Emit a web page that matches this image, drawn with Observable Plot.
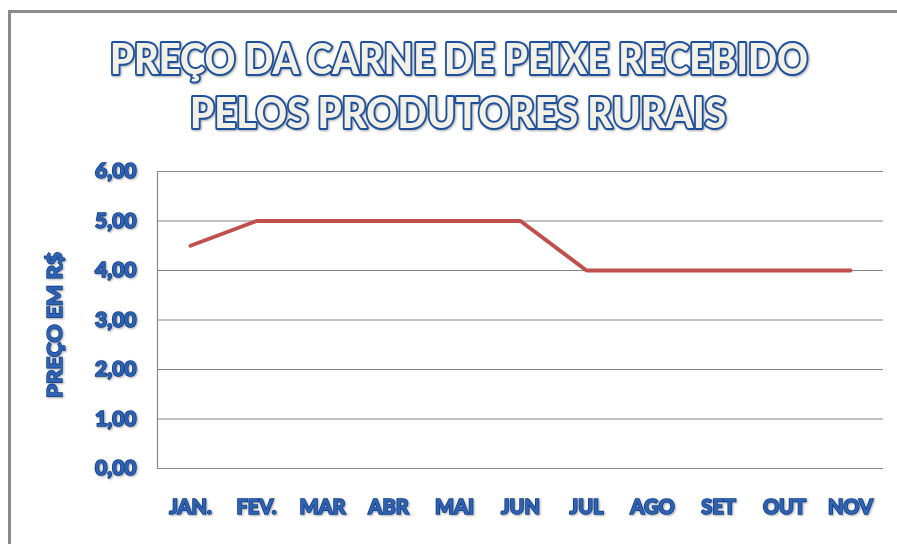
<!DOCTYPE html>
<html>
<head>
<meta charset="utf-8">
<script src="https://cdn.jsdelivr.net/npm/d3@7"></script>
<script src="https://cdn.jsdelivr.net/npm/@observablehq/plot@0.6"></script>
<style>
  html, body { margin: 0; padding: 0; background: #fff; }
  #wrap { position: relative; width: 897px; height: 544px; overflow: hidden; }
  #border { position: absolute; left: 8px; top: 10px; right: -10px; bottom: -10px;
            border-left: 3px solid #8a8a8a; border-top: 3px solid #8a8a8a; pointer-events: none; }
  g[aria-label="y-axis tick label"] text, g[aria-label="x-axis tick label"] text {
    font-family: Lato, "Open Sans", sans-serif; font-weight: 900;
    fill: #2f62b0; stroke: #0d3f8f; stroke-width: 1.6px; paint-order: stroke;
  }
  .deco { filter: drop-shadow(1.5px 1.5px 1px rgba(0,0,0,0.35)); }
</style>
</head>
<body>
<div id="wrap"><div id="border"></div></div>
<script>
const months = ["JAN.", "FEV.", "MAR", "ABR", "MAI", "JUN", "JUL", "AGO", "SET", "OUT", "NOV"];
const prices = [4.5, 5, 5, 5, 5, 5, 4, 4, 4, 4, 4];
const yTicks = [0, 1, 2, 3, 4, 5, 6];
const titleLines = ["PREÇO DA CARNE DE PEIXE RECEBIDO", "PELOS PRODUTORES RURAIS"];
const yLabel = "PREÇO EM R$";

const data = months.map((m, i) => ({month: m, price: prices[i]}));

const chart = Plot.plot({
  width: 897,
  height: 544,
  marginLeft: 157,
  marginRight: 14,
  marginTop: 171,
  marginBottom: 76,
  style: {background: "transparent", overflow: "visible"},
  x: {type: "band", domain: months, paddingInner: 0, paddingOuter: 0},
  y: {domain: [0, 6]},
  marks: [
    Plot.ruleY(yTicks, {stroke: "#868686", strokeWidth: 1.2, strokeOpacity: 1}),
    Plot.frame({anchor: "left", stroke: "#868686", strokeWidth: 1.2}),
    Plot.lineY(data, {x: "month", y: "price", stroke: "#c0504d", strokeWidth: 4, strokeLinejoin: "round"}),
    Plot.axisY(yTicks, {tickSize: 0, tickPadding: 21, fontSize: 21,
      tickFormat: d => d3.format(".2f")(d).replace(".", ","), label: null, className: "deco"}),
    Plot.axisX({tickSize: 0, tickPadding: 31, fontSize: 20, label: null})
  ]
});

document.getElementById("wrap").appendChild(chart);
const svg = d3.select(chart);

// title
const tg = svg.append("g").attr("class", "deco");
const tspec = [
  {text: titleLines[0], x: 459, y: 74, len: 698},
  {text: titleLines[1], x: 458, y: 128, len: 536}
];
tspec.forEach(t => {
  tg.append("text")
    .attr("x", t.x).attr("y", t.y)
    .attr("text-anchor", "middle")
    .attr("textLength", t.len).attr("lengthAdjust", "spacingAndGlyphs")
    .style("font-family", "Lato, 'Open Sans', sans-serif")
    .style("font-weight", 900)
    .style("font-size", "42px")
    .style("fill", "#f3f1e6")
    .style("stroke", "#1c4f9c")
    .style("stroke-width", "4px")
    .style("paint-order", "stroke")
    .style("stroke-linejoin", "round")
    .text(t.text);
});

// y label
svg.append("g").attr("class", "deco")
  .append("text")
  .attr("transform", "translate(62,325) rotate(-90)")
  .attr("text-anchor", "middle")
  .attr("textLength", 146).attr("lengthAdjust", "spacingAndGlyphs")
  .style("font-family", "Lato, 'Open Sans', sans-serif")
  .style("font-weight", 900)
  .style("font-size", "20px")
  .style("fill", "#2f62b0").style("stroke", "#0d3f8f").style("stroke-width", "1.4px")
  .style("paint-order", "stroke")
  .text(yLabel);

svg.selectAll('g[aria-label="x-axis tick label"]').attr("class", "deco");
</script>
</body>
</html>
